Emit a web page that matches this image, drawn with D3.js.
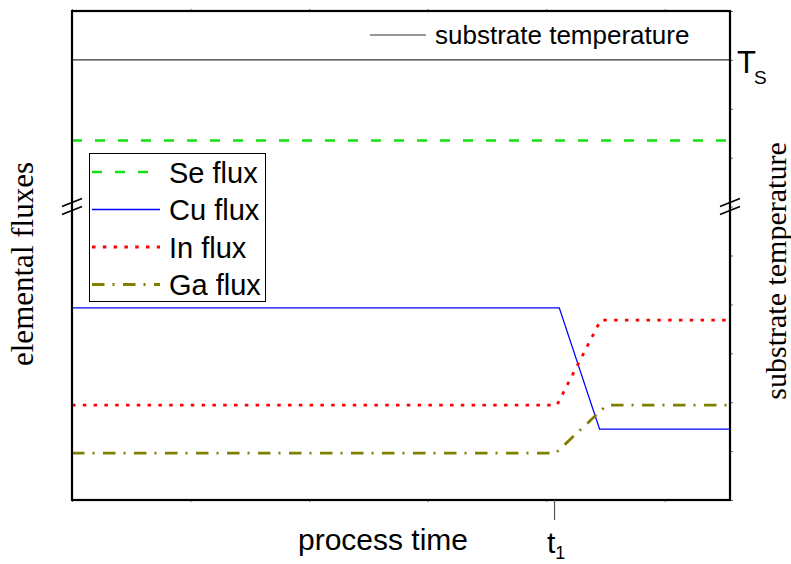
<!DOCTYPE html>
<html>
<head>
<meta charset="utf-8">
<script src="https://cdn.jsdelivr.net/npm/d3@7"></script>
<style>
  body { margin: 0; background: #fff; }
  .sans { font-family: "Liberation Sans", Arial, sans-serif; fill: #000; }
  .serif { font-family: "Liberation Serif", "Times New Roman", serif; fill: #000; }
</style>
</head>
<body>
<svg width="791" height="564"></svg>
<script>
// process time (arbitrary units) and flux / temperature levels (arbitrary units)
const timeExtent = [0, 5.55]
const levelExtent = [0, 10]
const t1 = 4.07
const breakLevel = 6

const tsTime = [0, 5.55]
const tsVal = [9, 9]
const seTime = [0, 5.55]
const seVal = [7.35, 7.35]
const cuTime = [0, 4.11, 4.45, 5.55]
const cuVal = [3.93, 3.93, 1.45, 1.45]
const inTime = [0, 4.09, 4.46, 5.55]
const inVal = [1.94, 1.94, 3.68, 3.68]
const gaTime = [0, 4.08, 4.51, 5.55]
const gaVal = [0.96, 0.96, 1.94, 1.94]

const seriesNames = ["Se flux", "Cu flux", "In flux", "Ga flux"]

const svg = d3.select("svg")

const plotL = 72, plotR = 730, plotT = 11, plotB = 500

const x = d3.scaleLinear().domain(timeExtent).range([plotL, plotR])
const y = d3.scaleLinear().domain(levelExtent).range([plotB, plotT])

// line styles per series
const styles = {
    "Se flux": { color: "#11e011", width: 2.5, dash: "10,13" },
    "Cu flux": { color: "#0000ff", width: 1.3, dash: null },
    "In flux": { color: "#ff0000", width: 2.8, dash: "3.5,7.3" },
    "Ga flux": { color: "#808000", width: 2.8, dash: "12.5,8,2,8.5" }
}

//tiny ticks on top, bottom and right
const tickG = svg.append("g")
tickG.append("g")
    .attr("transform", "translate(0," + plotT + ")")
    .call(d3.axisTop(x).ticks(6).tickSize(2).tickFormat(""))
tickG.append("g")
    .attr("transform", "translate(0," + plotB + ")")
    .call(d3.axisBottom(x).ticks(6).tickSize(2).tickFormat(""))
tickG.append("g")
    .attr("transform", "translate(" + plotR + ",0)")
    .call(d3.axisRight(y).ticks(10).tickSize(3).tickFormat(""))
tickG.selectAll(".domain").remove()
tickG.selectAll(".tick line").attr("stroke", "#666")

const lineGen = d3.line().x(d => x(d[0])).y(d => y(d[1]))
const zip = (a, b) => a.map((v, i) => [v, b[i]])

// substrate temperature
svg.append("path")
    .attr("d", lineGen(zip(tsTime, tsVal)))
    .attr("fill", "none")
    .attr("stroke", "#333")
    .attr("stroke-width", 1.2)

const seriesData = {
    "Se flux": zip(seTime, seVal),
    "Cu flux": zip(cuTime, cuVal),
    "In flux": zip(inTime, inVal),
    "Ga flux": zip(gaTime, gaVal)
}

seriesNames.forEach(name => {
    const s = styles[name]
    svg.append("path")
        .attr("d", lineGen(seriesData[name]))
        .attr("fill", "none")
        .attr("stroke", s.color)
        .attr("stroke-width", s.width)
        .attr("stroke-dasharray", s.dash)
})

// frame
svg.append("rect")
    .attr("x", plotL).attr("y", plotT)
    .attr("width", plotR - plotL).attr("height", plotB - plotT)
    .attr("fill", "none")
    .attr("stroke", "#000")
    .attr("stroke-width", 2.2)

// t1 tick below axis
svg.append("line")
    .attr("x1", x(t1)).attr("x2", x(t1))
    .attr("y1", plotB).attr("y2", plotB + 20)
    .attr("stroke", "#555").attr("stroke-width", 1.2)

// axis break marks
const yb = y(breakLevel)
;[plotL, plotR].forEach(xb => {
    [-4, 4].forEach(off => {
        svg.append("line")
            .attr("x1", xb - 10).attr("y1", yb + off + 4)
            .attr("x2", xb + 10).attr("y2", yb + off - 4)
            .attr("stroke", "#000").attr("stroke-width", 1.6)
    })
})

// legend
const legend = svg.append("g")
legend.append("rect")
    .attr("x", 89.5).attr("y", 153.5)
    .attr("width", 176).attr("height", 148)
    .attr("fill", "#fff")
    .attr("stroke", "#000").attr("stroke-width", 1)
const legendY = [172, 209.5, 247, 284.5]
seriesNames.forEach((name, i) => {
    const s = styles[name]
    legend.append("line")
        .attr("x1", 92).attr("x2", 160)
        .attr("y1", legendY[i]).attr("y2", legendY[i])
        .attr("stroke", s.color)
        .attr("stroke-width", s.width)
        .attr("stroke-dasharray", s.dash)
    legend.append("text")
        .attr("class", "sans")
        .attr("x", 169).attr("y", legendY[i] + 10.5)
        .style("font-size", "29px")
        .text(name)
})

// substrate temperature legend
svg.append("line")
    .attr("x1", 370).attr("x2", 426)
    .attr("y1", 35).attr("y2", 35)
    .attr("stroke", "#333").attr("stroke-width", 1.2)
svg.append("text")
    .attr("class", "sans")
    .attr("x", 435).attr("y", 44)
    .style("font-size", "26px")
    .text("substrate temperature")

// T_S
const ts = svg.append("text").attr("class", "sans")
    .attr("x", 737).attr("y", 73)
    .style("font-size", "31px")
ts.append("tspan").text("T")
ts.append("tspan").attr("dy", 11).attr("dx", -2).style("font-size", "19px").text("S")

// axis titles
svg.append("text")
    .attr("class", "sans")
    .attr("x", 383).attr("y", 550)
    .attr("text-anchor", "middle")
    .style("font-size", "30px")
    .text("process time")

const tl = svg.append("text").attr("class", "sans")
    .attr("x", 547).attr("y", 553)
    .style("font-size", "30px")
tl.append("tspan").text("t")
tl.append("tspan").attr("dy", 6).style("font-size", "18px").text("1")

svg.append("text")
    .attr("class", "serif")
    .attr("transform", "translate(33,264) rotate(-90)")
    .attr("text-anchor", "middle")
    .style("font-size", "31px")
    .text("elemental fluxes")

svg.append("text")
    .attr("class", "serif")
    .attr("transform", "translate(786,271) rotate(-90)")
    .attr("text-anchor", "middle")
    .style("font-size", "30px")
    .text("substrate temperature")
</script>
</body>
</html>
